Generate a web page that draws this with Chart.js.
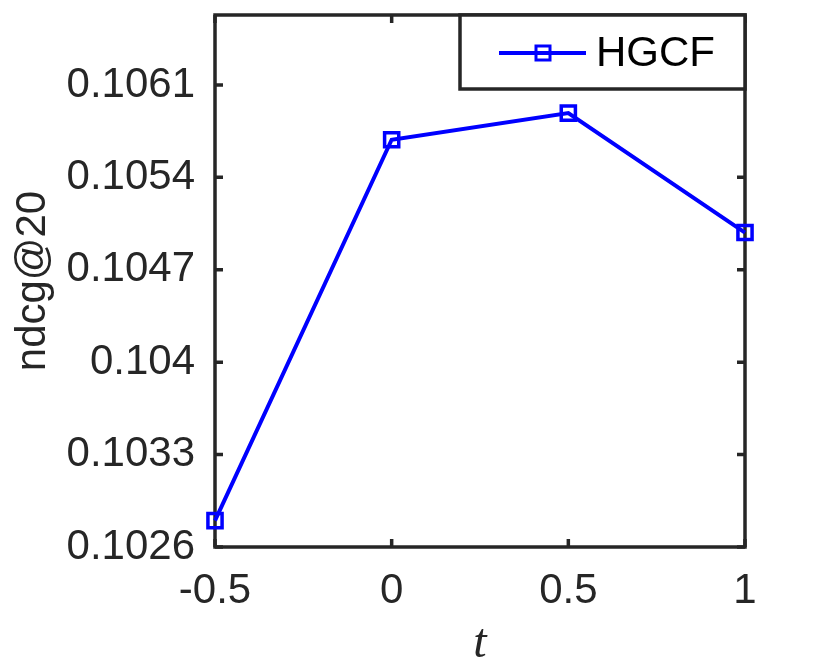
<!DOCTYPE html>
<html>
<head>
<meta charset="utf-8">
<script src="https://cdn.jsdelivr.net/npm/chart.js@4.4.1/dist/chart.umd.min.js"></script>
<style>
  html, body { margin: 0; padding: 0; background: #fff; }
  #wrap { width: 830px; height: 664px; }
</style>
</head>
<body>
<div id="wrap"><canvas id="ndcg-chart" width="830" height="664"></canvas></div>
<script>
const tValues = [-0.5, 0, 0.5, 1];
const ndcgValues = [0.10280, 0.105685, 0.105887, 0.104982];
const xTicks = [-0.5, 0, 0.5, 1];
const yTicks = [0.1026, 0.1033, 0.104, 0.1047, 0.1054, 0.1061];
const yMin = 0.1026;
const yMax = 0.10663;
const seriesName = "HGCF";

const axisColor = "#262626";
const lineColor = "#0000ff";
const sansFont = "'Liberation Sans', Arial, sans-serif";

// MATLAB-style box with inward ticks on all four sides
const boxPlugin = {
  id: "box",
  beforeDatasetsDraw(chart) {
    const { ctx, chartArea: a, scales } = chart;
    const tl = 8;
    ctx.save();
    ctx.strokeStyle = axisColor;
    ctx.lineWidth = 3.5;
    ctx.beginPath();
    xTicks.forEach(v => {
      const x = scales.x.getPixelForValue(v);
      ctx.moveTo(x, a.bottom); ctx.lineTo(x, a.bottom - tl);
      ctx.moveTo(x, a.top); ctx.lineTo(x, a.top + tl);
    });
    yTicks.forEach(v => {
      const y = scales.y.getPixelForValue(v);
      ctx.moveTo(a.left, y); ctx.lineTo(a.left + tl, y);
      ctx.moveTo(a.right, y); ctx.lineTo(a.right - tl, y);
    });
    ctx.stroke();
    ctx.strokeRect(a.left, a.top, a.right - a.left, a.bottom - a.top);
    ctx.restore();
  },
  afterDraw(chart) {
    // legend box in the top right corner
    const { ctx, chartArea: a } = chart;
    const w = 285, h = 74;
    const x0 = a.right - w, y0 = a.top;
    ctx.save();
    ctx.fillStyle = "#fff";
    ctx.fillRect(x0, y0, w, h);
    ctx.strokeStyle = axisColor;
    ctx.lineWidth = 3.5;
    ctx.strokeRect(x0, y0, w, h);
    const cy = y0 + 38;
    ctx.strokeStyle = lineColor;
    ctx.lineWidth = 4;
    ctx.beginPath();
    ctx.moveTo(x0 + 39, cy); ctx.lineTo(x0 + 126, cy);
    ctx.stroke();
    ctx.lineWidth = 3;
    ctx.fillStyle = "#fff";
    ctx.fillRect(x0 + 76, cy - 7, 14, 14);
    ctx.strokeRect(x0 + 76, cy - 7, 14, 14);
    ctx.beginPath();
    ctx.lineWidth = 4;
    ctx.moveTo(x0 + 76, cy); ctx.lineTo(x0 + 90, cy);
    ctx.stroke();
    ctx.fillStyle = "#000";
    ctx.font = "42px " + sansFont;
    ctx.textBaseline = "middle";
    ctx.fillText(seriesName, x0 + 136, cy + 1);
    ctx.restore();
  }
};

const ctx = document.getElementById("ndcg-chart");
const myChart = new Chart(ctx, {
  type: "line",
  data: {
    datasets: [{
      label: seriesName,
      data: tValues.map((t, i) => ({ x: t, y: ndcgValues[i] })),
      borderColor: lineColor,
      borderWidth: 4,
      pointStyle: "rect",
      pointRadius: 10,
      pointBorderWidth: 3.5,
      pointBorderColor: lineColor,
      pointBackgroundColor: "rgba(0,0,0,0)",
      clip: false,
      tension: 0
    }]
  },
  options: {
    responsive: false,
    animation: false,
    layout: { padding: { left: 0, right: 85, top: 15, bottom: 0 } },
    scales: {
      x: {
        type: "linear",
        min: -0.5,
        max: 1,
        afterBuildTicks: axis => { axis.ticks = xTicks.map(v => ({ value: v })); },
        afterFit: axis => { axis.height = 117; axis.paddingLeft = 0; axis.paddingRight = 0; },
        grid: { display: false, drawTicks: false },
        border: { display: false },
        ticks: {
          color: axisColor,
          padding: 19,
          maxRotation: 0,
          font: { family: sansFont, size: 42 },
          callback: v => String(v)
        },
        title: {
          display: true,
          text: "t",
          color: axisColor,
          padding: { top: 0, bottom: 0 },
          font: { family: "'Liberation Serif', 'DejaVu Serif', serif", size: 48, style: "italic", lineHeight: 0.8 }
        }
      },
      y: {
        min: yMin,
        max: yMax,
        afterBuildTicks: axis => { axis.ticks = yTicks.map(v => ({ value: v })); },
        afterFit: axis => { axis.width = 215; axis.paddingTop = 0; axis.paddingBottom = 0; },
        grid: { display: false, drawTicks: false },
        border: { display: false },
        ticks: {
          color: axisColor,
          padding: 20,
          font: { family: sansFont, size: 42 },
          callback: v => String(v)
        },
        title: {
          display: true,
          text: "ndcg@20",
          color: axisColor,
          padding: { top: 8, bottom: 0 },
          font: { family: sansFont, size: 42 }
        }
      }
    },
    plugins: {
      legend: { display: false },
      tooltip: { enabled: false }
    }
  },
  plugins: [boxPlugin]
});
</script>
</body>
</html>
